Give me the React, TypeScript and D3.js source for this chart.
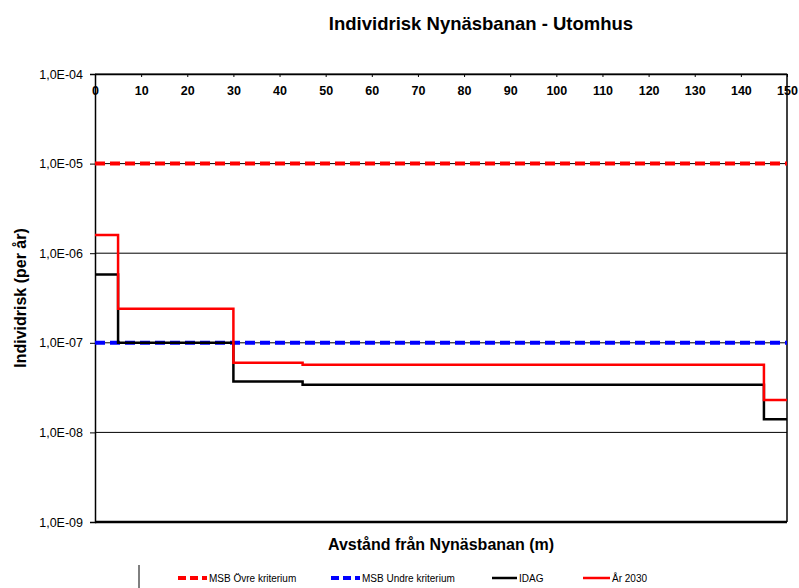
import { useEffect, useRef } from 'react';
import * as d3 from 'd3';

const distances = [0, 5, 30, 45, 145, 150];
const idag = [5.8e-7, 1.0e-7, 3.7e-8, 3.4e-8, 1.4e-8];
const ar2030 = [1.6e-6, 2.4e-7, 6.0e-8, 5.7e-8, 2.3e-8];
const msbOvre = 1e-5;
const msbUndre = 1e-7;

const xTicks = [0, 10, 20, 30, 40, 50, 60, 70, 80, 90, 100, 110, 120, 130, 140, 150];
const yTicks = [1e-4, 1e-5, 1e-6, 1e-7, 1e-8, 1e-9];
const yTickLabels = ['1,0E-04', '1,0E-05', '1,0E-06', '1,0E-07', '1,0E-08', '1,0E-09'];

const W = 799;
const H = 588;
const FONT = '"Liberation Sans", Arial, sans-serif';

export default function App() {
  const svgRef = useRef<SVGSVGElement>(null);

  useEffect(() => {
    const svg = d3.select(svgRef.current);
    svg.selectAll('*').remove();

    const left = 95;
    const right = 787;
    const top = 74;
    const bottom = 522;

    const x = d3.scaleLinear().domain([0, 150]).range([left, right]);
    const y = d3.scaleLog().domain([1e-9, 1e-4]).range([bottom, top]);

    svg.append('rect').attr('width', W).attr('height', H).attr('fill', '#fff');

    // grid
    svg.append('g')
      .selectAll('line')
      .data(yTicks)
      .join('line')
      .attr('x1', left)
      .attr('x2', right)
      .attr('y1', d => y(d))
      .attr('y2', d => y(d))
      .attr('stroke', '#000')
      .attr('stroke-width', 1);

    // y axis
    const yAxis = d3.axisLeft(y).tickValues(yTicks).tickSize(5)
      .tickFormat((_, i) => yTickLabels[i]);
    const gy = svg.append('g').attr('transform', `translate(${left},0)`).call(yAxis);
    gy.select('.domain').attr('stroke', '#000').attr('stroke-width', 1.5);
    gy.selectAll('text').attr('font-family', FONT).attr('font-size', 12.5).attr('fill', '#000').attr('x', -12);

    // x axis on top, labels inside
    const xAxis = d3.axisBottom(x).tickValues(xTicks).tickSize(3).tickSizeOuter(0);
    const gx = svg.append('g').attr('transform', `translate(0,${top})`).call(xAxis);
    gx.select('.domain').attr('stroke', '#000').attr('stroke-width', 1.5);
    gx.selectAll('text').attr('font-family', FONT).attr('font-size', 12.5).attr('font-weight', 'bold').attr('fill', '#000').attr('y', 12);

    // bottom and right border
    svg.append('line').attr('x1', left).attr('x2', right).attr('y1', bottom).attr('y2', bottom)
      .attr('stroke', '#000').attr('stroke-width', 2.5);
    svg.append('line').attr('x1', right).attr('x2', right).attr('y1', top).attr('y2', bottom)
      .attr('stroke', '#000').attr('stroke-width', 1.5);

    // criteria
    const crit = [
      { v: msbOvre, color: '#ff0000' },
      { v: msbUndre, color: '#0000ff' },
    ];
    svg.append('g')
      .selectAll('line')
      .data(crit)
      .join('line')
      .attr('x1', x(0))
      .attr('x2', x(150))
      .attr('y1', d => y(d.v))
      .attr('y2', d => y(d.v))
      .attr('stroke', d => d.color)
      .attr('stroke-width', 4)
      .attr('stroke-dasharray', '10,5');

    const line = d3.line<[number, number]>()
      .x(d => x(d[0]))
      .y(d => y(d[1]))
      .curve(d3.curveStepAfter);

    const toPts = (vals: number[]) => {
      const pts: [number, number][] = vals.map((v, i) => [distances[i], v]);
      pts.push([distances[distances.length - 1], vals[vals.length - 1]]);
      return pts;
    };

    svg.append('path').datum(toPts(idag)).attr('d', line)
      .attr('fill', 'none').attr('stroke', '#000').attr('stroke-width', 2.5);
    svg.append('path').datum(toPts(ar2030)).attr('d', line)
      .attr('fill', 'none').attr('stroke', '#ff0000').attr('stroke-width', 2.5);

    // titles
    svg.append('text').attr('x', 481).attr('y', 30).attr('text-anchor', 'middle')
      .attr('font-family', FONT).attr('font-weight', 'bold').attr('font-size', 18.5)
      .text('Individrisk Nynäsbanan - Utomhus');
    svg.append('text').attr('x', 441).attr('y', 550).attr('text-anchor', 'middle')
      .attr('font-family', FONT).attr('font-weight', 'bold').attr('font-size', 16)
      .text('Avstånd från Nynäsbanan (m)');
    svg.append('text').attr('transform', 'translate(26,298) rotate(-90)').attr('text-anchor', 'middle')
      .attr('font-family', FONT).attr('font-weight', 'bold').attr('font-size', 16)
      .text('Individrisk (per år)');

    // legend
    const ly = 578;
    svg.append('line').attr('x1', 139).attr('x2', 139).attr('y1', 565).attr('y2', 588)
      .attr('stroke', '#000').attr('stroke-width', 1);
    const legend = [
      { label: 'MSB Övre kriterium', color: '#ff0000', dash: '8,4', w: 4, x0: 178, x1: 207, tx: 209 },
      { label: 'MSB Undre kriterium', color: '#0000ff', dash: '8,4', w: 4, x0: 331, x1: 360, tx: 362 },
      { label: 'IDAG', color: '#000', dash: null, w: 2.5, x0: 492, x1: 517, tx: 519 },
      { label: 'År 2030', color: '#ff0000', dash: null, w: 2.5, x0: 583, x1: 610, tx: 612 },
    ];
    const lg = svg.append('g').selectAll('g').data(legend).join('g');
    lg.append('line')
      .attr('x1', d => d.x0).attr('x2', d => d.x1).attr('y1', ly).attr('y2', ly)
      .attr('stroke', d => d.color).attr('stroke-width', d => d.w)
      .attr('stroke-dasharray', d => d.dash);
    lg.append('text')
      .attr('x', d => d.tx).attr('y', ly + 4)
      .attr('font-family', FONT).attr('font-size', 10).attr('fill', '#000')
      .text(d => d.label);
  }, []);

  return <svg ref={svgRef} width={W} height={H} style={{ position: 'absolute', left: 0, top: 0 }} />;
}
